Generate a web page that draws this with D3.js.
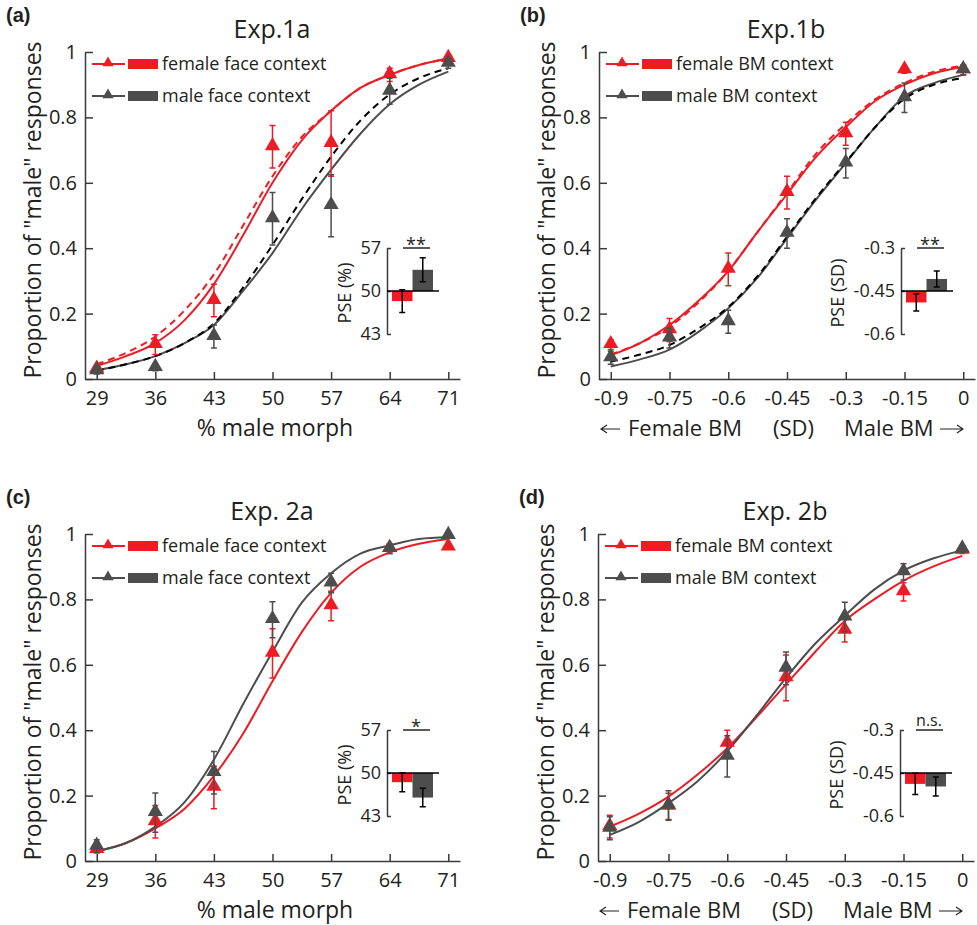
<!DOCTYPE html>
<html>
<head>
<meta charset="utf-8">
<script src="https://cdn.jsdelivr.net/npm/d3@7"></script>
<style>
	body { margin: 0; background: #fff; }
	svg { display: block; }
	text { font-family: 'Open Sans', sans-serif; fill: #231f20; }
</style>
</head>
<body>
<svg id="svg" width="977" height="925"></svg>
<script>
// x levels and tick values
const morphLevels = [29, 36, 43, 50, 57, 64, 71];
const bmLevels = [-0.9, -0.75, -0.6, -0.45, -0.3, -0.15, 0];
const yTicks = [0, 0.2, 0.4, 0.6, 0.8, 1];
const morphFitX = [29, 32.5, 36, 39.5, 43, 46.5, 50, 53.5, 57, 60.5, 64, 67.5, 71];
const bmFitX = [-0.9, -0.825, -0.75, -0.675, -0.6, -0.525, -0.45, -0.375, -0.3, -0.225, -0.15, -0.075, 0];

// Exp.1a
const exp1aFemale = [0.03, 0.105, 0.24, 0.71, 0.72, 0.93, 0.98];
const exp1aFemaleSE = [0.01, 0.03, 0.05, 0.065, 0.1, 0.02, 0.01];
const exp1aMale = [0.025, 0.035, 0.13, 0.49, 0.53, 0.88, 0.965];
const exp1aMaleSE = [0.01, 0.01, 0.035, 0.08, 0.095, 0.04, 0.015];
const exp1aFemaleFit = [0.04, 0.07, 0.11, 0.18, 0.29, 0.44, 0.6, 0.73, 0.82, 0.89, 0.93, 0.96, 0.98];
const exp1aFemaleFitDash = [0.045, 0.08, 0.13, 0.21, 0.32, 0.47, 0.62, 0.74, 0.82, 0.89, 0.93, 0.96, 0.98];
const exp1aMaleFit = [0.027, 0.045, 0.07, 0.11, 0.165, 0.27, 0.385, 0.52, 0.64, 0.75, 0.84, 0.9, 0.94];
const exp1aMaleFitDash = [0.025, 0.045, 0.07, 0.11, 0.17, 0.28, 0.41, 0.55, 0.68, 0.79, 0.87, 0.92, 0.95];
const exp1aPSE = [48.35, 53.45];
const exp1aPSESE = [1.85, 1.95];

// Exp.1b
const exp1bFemale = [0.105, 0.15, 0.335, 0.57, 0.75, 0.945, 0.945];
const exp1bFemaleSE = [0.015, 0.035, 0.05, 0.05, 0.035, 0.01, 0.015];
const exp1bMale = [0.065, 0.125, 0.175, 0.445, 0.66, 0.86, 0.945];
const exp1bMaleSE = [0.02, 0.03, 0.035, 0.045, 0.045, 0.045, 0.015];
const exp1bFemaleFit = [0.073, 0.11, 0.165, 0.24, 0.33, 0.45, 0.565, 0.68, 0.77, 0.85, 0.9, 0.935, 0.955];
const exp1bFemaleFitDash = [0.075, 0.11, 0.16, 0.235, 0.33, 0.45, 0.57, 0.69, 0.78, 0.855, 0.905, 0.94, 0.958];
const exp1bMaleFit = [0.038, 0.06, 0.09, 0.145, 0.216, 0.31, 0.43, 0.55, 0.66, 0.77, 0.864, 0.905, 0.93];
const exp1bMaleFitDash = [0.053, 0.075, 0.104, 0.155, 0.22, 0.315, 0.435, 0.555, 0.663, 0.77, 0.857, 0.9, 0.92];
const exp1bPSE = [-0.49, -0.408];
const exp1bPSESE = [0.03, 0.028];

// Exp. 2a
const exp2aFemale = [0.035, 0.12, 0.225, 0.635, 0.78, 0.955, 0.96];
const exp2aFemaleSE = [0.01, 0.05, 0.065, 0.075, 0.045, 0.015, 0];
const exp2aMale = [0.045, 0.148, 0.27, 0.738, 0.85, 0.955, 0.995];
const exp2aMaleSE = [0.02, 0.06, 0.065, 0.055, 0.03, 0.015, 0];
const exp2aFemaleFit = [0.03, 0.055, 0.1, 0.16, 0.26, 0.39, 0.55, 0.7, 0.82, 0.9, 0.944, 0.97, 0.985];
const exp2aMaleFit = [0.03, 0.055, 0.105, 0.18, 0.31, 0.48, 0.64, 0.79, 0.88, 0.94, 0.965, 0.985, 0.99];
const exp2aPSE = [48.5, 46.0];
const exp2aPSESE = [1.55, 1.5];

// Exp. 2b
const exp2bFemale = [0.105, 0.167, 0.36, 0.56, 0.705, 0.823, 0.95];
const exp2bFemaleSE = [0.035, 0.04, 0.04, 0.07, 0.035, 0.028, 0.01];
const exp2bMale = [0.1, 0.17, 0.32, 0.589, 0.746, 0.884, 0.954];
const exp2bMaleSE = [0.035, 0.045, 0.063, 0.05, 0.045, 0.025, 0.01];
const exp2bFemaleFit = [0.105, 0.145, 0.197, 0.265, 0.345, 0.44, 0.54, 0.64, 0.734, 0.8, 0.857, 0.9, 0.933];
const exp2bMaleFit = [0.08, 0.12, 0.177, 0.245, 0.335, 0.445, 0.56, 0.665, 0.75, 0.83, 0.888, 0.925, 0.95];
const exp2bPSE = [-0.488, -0.497];
const exp2bPSESE = [0.037, 0.033];

const red = '#ed1c24';
const gray = '#4d4d4d';
const axisColor = '#3a3a3a';

const svg = d3.select('#svg');

const panels = [
	{ tag: '(a)', title: 'Exp.1a', ox: 85, oy: 379, w: 375, xlim: [27.6, 72.4], levels: morphLevels, fitX: morphFitX,
		female: exp1aFemale, femaleSE: exp1aFemaleSE, male: exp1aMale, maleSE: exp1aMaleSE,
		femaleFit: exp1aFemaleFit, maleFit: exp1aMaleFit, femaleDash: exp1aFemaleFitDash, maleDash: exp1aMaleFitDash,
		legend: ['female face context', 'male face context'], pse: exp1aPSE, pseSE: exp1aPSESE,
		pseLim: [43, 57], pseTicks: [43, 50, 57], pseRef: 50, pseLabel: 'PSE (%)', pseLabelX: 260, sig: '**', bm: false },
	{ tag: '(b)', title: 'Exp.1b', ox: 599, oy: 379, w: 376, xlim: [-0.93, 0.03], levels: bmLevels, fitX: bmFitX,
		female: exp1bFemale, femaleSE: exp1bFemaleSE, male: exp1bMale, maleSE: exp1bMaleSE,
		femaleFit: exp1bFemaleFit, maleFit: exp1bMaleFit, femaleDash: exp1bFemaleFitDash, maleDash: exp1bMaleFitDash,
		legend: ['female BM context', 'male BM context'], pse: exp1bPSE, pseSE: exp1bPSESE,
		pseLim: [-0.6, -0.3], pseTicks: [-0.6, -0.45, -0.3], pseRef: -0.45, pseLabel: 'PSE (SD)', pseLabelX: 239, sig: '**', bm: true },
	{ tag: '(c)', title: 'Exp. 2a', ox: 85, oy: 861, w: 375, xlim: [27.6, 72.4], levels: morphLevels, fitX: morphFitX,
		female: exp2aFemale, femaleSE: exp2aFemaleSE, male: exp2aMale, maleSE: exp2aMaleSE,
		femaleFit: exp2aFemaleFit, maleFit: exp2aMaleFit, femaleDash: null, maleDash: null,
		legend: ['female face context', 'male face context'], pse: exp2aPSE, pseSE: exp2aPSESE,
		pseLim: [43, 57], pseTicks: [43, 50, 57], pseRef: 50, pseLabel: 'PSE (%)', pseLabelX: 260, sig: '*', bm: false },
	{ tag: '(d)', title: 'Exp. 2b', ox: 598, oy: 861, w: 376, xlim: [-0.93, 0.03], levels: bmLevels, fitX: bmFitX,
		female: exp2bFemale, femaleSE: exp2bFemaleSE, male: exp2bMale, maleSE: exp2bMaleSE,
		femaleFit: exp2bFemaleFit, maleFit: exp2bMaleFit, femaleDash: null, maleDash: null,
		legend: ['female BM context', 'male BM context'], pse: exp2bPSE, pseSE: exp2bPSESE,
		pseLim: [-0.6, -0.3], pseTicks: [-0.6, -0.45, -0.3], pseRef: -0.45, pseLabel: 'PSE (SD)', pseLabelX: 239, sig: 'n.s.', bm: true }
];

function styleAxis(sel, size) {
	sel.selectAll('path, line').attr('stroke', axisColor).attr('stroke-width', 1.5);
	sel.selectAll('text').attr('font-size', size).attr('fill', '#231f20').attr('font-family', "'Open Sans', sans-serif");
}

// thin long arrow for the BM axis label
function arrow(g, x1, x2, y) {
	const dir = x2 > x1 ? 1 : -1;
	g.append('path')
		.attr('d', `M${x1},${y}H${x2}M${x2 - dir * 6},${y - 4}L${x2},${y}L${x2 - dir * 6},${y + 4}`)
		.attr('stroke', '#231f20').attr('stroke-width', 1.1).attr('fill', 'none');
}

function drawPanel(p) {
	const g = svg.append('g');
	const x = d3.scaleLinear().domain(p.xlim).range([p.ox, p.ox + p.w]);
	const y = d3.scaleLinear().domain([0, 1]).range([p.oy, p.oy - 327]);

	// axes
	g.append('g')
		.attr('transform', `translate(0, ${p.oy})`)
		.call(d3.axisBottom(x).tickValues(p.levels).tickSize(-7).tickSizeOuter(0).tickPadding(12).tickFormat((d) => String(d)))
		.call((s) => styleAxis(s, 20));
	g.append('g')
		.attr('transform', `translate(${p.ox}, 0)`)
		.call(d3.axisLeft(y).tickValues(yTicks).tickSize(-8).tickSizeOuter(0).tickPadding(8).tickFormat((d) => String(d)))
		.call((s) => styleAxis(s, 20));

	// titles
	g.append('text').attr('x', p.ox + 187).attr('y', p.oy - 350).attr('dy', '0.35em')
		.attr('text-anchor', 'middle').attr('font-size', 25).text(p.title);
	g.append('text').attr('x', p.ox - 79).attr('y', p.oy - 357)
		.attr('font-size', 20).attr('font-weight', 'bold').style('font-family', "'Liberation Sans', Arial, sans-serif").text(p.tag);
	g.append('text').attr('transform', `translate(${p.ox - 52}, ${p.oy - 169}) rotate(-90)`)
		.attr('dy', '0.35em').attr('text-anchor', 'middle').attr('font-size', 23)
		.text('Proportion of "male" responses');

	if (p.bm) {
		const xl = g.append('g').attr('font-size', 22);
		arrow(xl, p.ox + 21, p.ox + 2, p.oy + 50);
		xl.append('text').attr('x', p.ox + 29).attr('y', p.oy + 57).text('Female BM');
		xl.append('text').attr('x', p.ox + 174).attr('y', p.oy + 57).text('(SD)');
		xl.append('text').attr('x', p.ox + 245).attr('y', p.oy + 57).text('Male BM');
		arrow(xl, p.ox + 341, p.ox + 364, p.oy + 50);
	} else {
		g.append('text').attr('x', p.ox + 190).attr('y', p.oy + 57).attr('text-anchor', 'middle')
			.attr('font-size', 23).text('% male morph');
	}

	// fitted curves
	const line = d3.line().x((d) => x(d[0])).y((d) => y(d[1])).curve(d3.curveMonotoneX);
	const curve = (vals, color, dash) => {
		g.append('path').datum(p.fitX.map((v, i) => [v, vals[i]]))
			.attr('d', line).attr('fill', 'none').attr('stroke', color).attr('stroke-width', 2)
			.attr('stroke-dasharray', dash ? '7,5' : null);
	};
	curve(p.femaleFit, red, false);
	curve(p.maleFit, gray, false);
	if (p.femaleDash) curve(p.femaleDash, red, true);
	if (p.maleDash) curve(p.maleDash, '#000', true);

	// points with error bars
	const tri = d3.symbol().type(d3.symbolTriangle).size(100);
	const series = [[p.female, p.femaleSE, red], [p.male, p.maleSE, gray]];
	series.forEach(([vals, se, color]) => {
		const pts = g.append('g').selectAll('g').data(p.levels.map((v, i) => ({ x: v, m: vals[i], s: se[i] })))
			.enter().append('g');
		pts.filter((d) => d.s > 0).append('path')
			.attr('d', (d) => `M${x(d.x)},${y(d.m - d.s)}V${y(d.m + d.s)}M${x(d.x) - 3},${y(d.m - d.s)}h6M${x(d.x) - 3},${y(d.m + d.s)}h6`)
			.attr('stroke', color).attr('stroke-width', 1.5).attr('fill', 'none');
		pts.append('path').attr('d', tri)
			.attr('transform', (d) => `translate(${x(d.x)}, ${y(d.m) - 1})`)
			.attr('fill', color);
	});

	// legend
	const lg = g.append('g');
	[[red, p.legend[0], -315], [gray, p.legend[1], -283]].forEach(([color, label, dy]) => {
		const ly = p.oy + dy;
		lg.append('line').attr('x1', p.ox + 7).attr('x2', p.ox + 40).attr('y1', ly).attr('y2', ly)
			.attr('stroke', color).attr('stroke-width', 2);
		lg.append('path').attr('d', d3.symbol().type(d3.symbolTriangle).size(55))
			.attr('transform', `translate(${p.ox + 23}, ${ly - 1})`).attr('fill', color);
		lg.append('rect').attr('x', p.ox + 43).attr('y', ly - 5).attr('width', 30).attr('height', 10).attr('fill', color);
		lg.append('text').attr('x', p.ox + 77).attr('y', ly).attr('dy', '0.35em').attr('font-size', 18).text(label);
	});

	// PSE inset
	const iy = d3.scaleLinear().domain(p.pseLim).range([p.oy - 45, p.oy - 131]);
	const ix = d3.scaleBand().domain(['female', 'male']).range([p.ox + 307, p.ox + 348]);
	const inset = g.append('g');
	inset.selectAll('rect').data(p.pse).enter().append('rect')
		.attr('x', (d, i) => ix(ix.domain()[i]))
		.attr('width', ix.bandwidth())
		.attr('y', (d) => Math.min(iy(d), iy(p.pseRef)))
		.attr('height', (d) => Math.abs(iy(d) - iy(p.pseRef)))
		.attr('fill', (d, i) => (i === 0 ? red : gray));
	inset.append('g')
		.attr('transform', `translate(${p.ox + 302}, 0)`)
		.call(d3.axisLeft(iy).tickValues(p.pseTicks).tickSize(-4).tickSizeOuter(0).tickPadding(6).tickFormat((d) => String(d)))
		.call((s) => styleAxis(s, 18));
	inset.append('line').attr('x1', p.ox + 302).attr('x2', p.ox + 354)
		.attr('y1', iy(p.pseRef)).attr('y2', iy(p.pseRef)).attr('stroke', '#000').attr('stroke-width', 1.5);
	inset.selectAll('.err').data(p.pse).enter().append('path')
		.attr('d', (d, i) => {
			const cx = ix(ix.domain()[i]) + ix.bandwidth() / 2;
			const lo = iy(d - p.pseSE[i]);
			const hi = iy(d + p.pseSE[i]);
			return `M${cx},${lo}V${hi}M${cx - 3},${lo}h6M${cx - 3},${hi}h6`;
		})
		.attr('stroke', '#000').attr('stroke-width', 1.5).attr('fill', 'none');
	inset.append('line').attr('x1', p.ox + 318).attr('x2', p.ox + 345)
		.attr('y1', p.oy - 131).attr('y2', p.oy - 131).attr('stroke', '#000').attr('stroke-width', 1.3);
	inset.append('text').attr('x', p.ox + 331).attr('y', p.sig === 'n.s.' ? p.oy - 135 : p.oy - 128)
		.attr('text-anchor', 'middle').attr('font-size', p.sig === 'n.s.' ? 16 : 18).text(p.sig);
	inset.append('text').attr('transform', `translate(${p.ox + p.pseLabelX}, ${p.oy - 86}) rotate(-90)`)
		.attr('dy', '0.35em').attr('text-anchor', 'middle').attr('font-size', 18).text(p.pseLabel);
}

panels.forEach(drawPanel);
</script>
</body>
</html>
